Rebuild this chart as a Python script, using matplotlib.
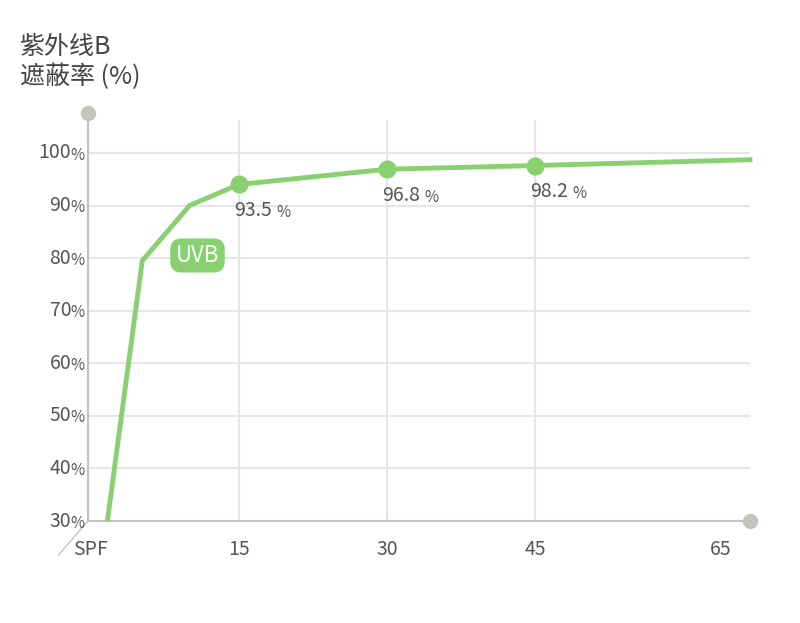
import matplotlib
matplotlib.use("Agg")
import matplotlib.pyplot as plt

plt.rcParams['font.family'] = ['Noto Sans CJK SC', 'DejaVu Sans']

# line data: x position on axis, shielding rate (%)
x_pos = [1.7, 5.2, 10.0, 15.0, 30.0, 45.0, 66.8]
rate = [30.5, 79.5, 90.0, 94.0, 96.9, 97.6, 98.7]
marker_x = [15, 30, 45]
marker_y = [94.0, 96.9, 97.6]
marker_labels = ["93.5", "96.8", "98.2"]
x_ticks = [15, 30, 45, 63.8]
x_tick_labels = ["15", "30", "45", "65"]
y_ticks = [30, 40, 50, 60, 70, 80, 90, 100]

green = "#88d070"
gray = "#c4c4bc"
txt = "#555555"

fig = plt.figure(figsize=(8, 6.23), dpi=100)
ax = fig.add_axes([0.11, 0.1637, 0.8275, 0.655])
ax.set_xlim(-0.3, 66.8)
ax.set_ylim(30, 107.6)
for s in ax.spines.values():
    s.set_visible(False)
ax.set_xticks([])
ax.set_yticks([])

for y in y_ticks:
    ax.axhline(y, color="#e6e6e6", lw=1.5, zorder=0)
    ax.text(-2.0, y, str(y), ha="right", va="center", fontsize=14, color=txt, clip_on=False)
    ax.text(-0.7, y - 0.4, "%", ha="right", va="center", fontsize=11, color=txt, clip_on=False)
for x in x_ticks[:3]:
    ax.plot([x, x], [30, 106], color="#e6e6e6", lw=1.5, zorder=0)
for x, lab in zip(x_ticks, x_tick_labels):
    ax.text(x, 24.5, lab, ha="center", va="center", fontsize=14, color=txt)

# axes
ax.plot([-0.3, -0.3], [30, 107.6], color=gray, lw=1.5, clip_on=False)
ax.plot([-0.3, 66.8], [30, 30], color=gray, lw=1.5, clip_on=False)
ax.plot([-0.3], [107.6], "o", color=gray, ms=10, clip_on=False)
ax.plot([66.8], [30], "o", color=gray, ms=10, clip_on=False)
ax.plot([-3.3, -0.3], [23.5, 30], color=gray, lw=1, clip_on=False)
ax.text(-1.8, 24.5, "SPF", ha="left", va="center", fontsize=14, color=txt)

ax.plot(x_pos, rate, color=green, lw=3.5, clip_on=False, zorder=3)
ax.plot(marker_x, marker_y, "o", color=green, ms=12, zorder=4)
for x, y, lab in zip(marker_x, marker_y, marker_labels):
    ax.text(x - 0.5, y - 5.0, lab, ha="left", va="center", fontsize=14, color=txt)
    ax.text(x + 3.8, y - 5.3, "%", ha="left", va="center", fontsize=11, color=txt)

ax.text(10.8, 80.5, "UVB", ha="center", va="center", fontsize=16, color="white",
        bbox=dict(boxstyle="round,pad=0.25,rounding_size=0.5", fc=green, ec="none"))

fig.text(0.025, 0.925, "紫外线B", fontsize=18, color="#444444", va="center")
fig.text(0.025, 0.877, "遮蔽率 (%)", fontsize=18, color="#444444", va="center")

fig.savefig("out.png", dpi=100, facecolor="white")
